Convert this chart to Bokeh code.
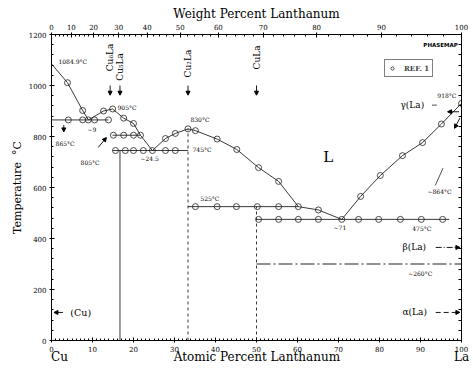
import math
from bokeh.plotting import figure
from bokeh.models import (Range1d, LinearAxis, SingleIntervalTicker, FixedTicker,
                          CustomJSTickFormatter, Label, Arrow, NormalHead, Legend, LegendItem)
from bokeh.embed import file_html
from bokeh.resources import INLINE

SERIF = "DejaVu Serif"
INK = "#222222"

# ---------------- data (at.% La, temperature degC) ----------------
liq_cu_x = [0.0, 3.9, 7.6, 9.0]
liq_cu_t = [1084.9, 1011, 902, 865]
liq_cu6_x = [9.0, 12.7, 14.9, 17.6, 20.0, 21.7, 24.6]
liq_cu6_t = [865, 900, 908, 872, 851, 805, 745]
liq_cu2_x = [24.6, 27.8, 30.2, 33.3, 35.1, 40.4, 45.2, 50.5, 55.4, 60.2, 65.1, 70.8]
liq_cu2_t = [745, 792, 812, 830, 823, 790, 749, 678, 624, 525, 512, 475]
liq_la_x = [70.8, 75.4, 80.2, 85.6, 90.5, 95.1, 100.0]
liq_la_t = [475, 565, 647, 725, 776, 849, 930]

inv_t = [865, 805, 745, 525, 475]
inv_x0 = [0.0, 14.9, 14.9, 33.3, 50.0]
inv_x1 = [13.9, 21.7, 33.3, 60.2, 97.0]

la_trans_t = [300]
la_trans_x0 = [50.0]
la_trans_x1 = [100.0]

comp_names = ["Cu\u2086La", "Cu\u2085La", "Cu\u2082La", "CuLa"]
comp_x = [14.3, 16.7, 33.3, 50.0]
line_comp_x = [16.7, 33.3, 50.0]
line_comp_top = [745, 830, 525]

pts_x = [3.9, 7.6, 9.0, 12.7, 14.9, 17.6, 20.0, 21.7, 24.6, 27.8, 30.2, 33.3, 35.1,
         40.4, 45.2, 50.5, 55.4, 60.2, 65.1, 70.8, 75.4, 80.2, 85.6, 90.5, 95.1, 100.0,
         4.1, 7.6, 10.5, 13.9,
         15.1, 17.6, 20.0,
         15.6, 18.0, 20.0, 22.4, 27.8, 30.2,
         35.1, 40.4, 45.1, 50.2, 55.4,
         50.5, 55.4, 60.2, 65.1, 74.9, 79.8, 85.1, 90.2, 95.4]
pts_t = [1011, 902, 865, 900, 908, 872, 851, 805, 745, 792, 812, 830, 823,
         790, 749, 678, 624, 525, 512, 475, 565, 647, 725, 776, 849, 930,
         865, 865, 865, 865,
         805, 805, 805,
         745, 745, 745, 745, 745, 745,
         525, 525, 525, 525, 525,
         475, 475, 475, 475, 475, 475, 475, 475, 475]

wt_major = list(range(0, 101, 10))
wt_minor = list(range(0, 101, 2))
end_names = ["Cu", "Atomic Percent Lanthanum", "La"]
M_LA, M_CU = 138.9055, 63.546


def wt_to_at(w):
    if w >= 100:
        return 100.0
    return round(100 * (w / M_LA) / (w / M_LA + (100 - w) / M_CU), 4)


# ---------------- figure ----------------
p = figure(width=473, height=368, x_range=Range1d(0, 100), y_range=Range1d(0, 1200),
           output_backend="svg", toolbar_location=None,
           x_axis_location=None, y_axis_location=None,
           min_border_left=51, min_border_right=12, min_border_top=34, min_border_bottom=28)
p.background_fill_color = "white"
p.border_fill_color = "white"
p.outline_line_color = None
p.grid.visible = False


def style_axis(ax):
    ax.axis_line_color = "black"
    ax.axis_line_width = 1
    ax.major_tick_line_color = "black"
    ax.minor_tick_line_color = "black"
    ax.major_tick_in = 3
    ax.major_tick_out = 2
    ax.minor_tick_in = 2
    ax.minor_tick_out = 0
    ax.major_label_text_font = SERIF
    ax.major_label_text_font_size = "7px"
    ax.major_label_text_color = "black"
    ax.major_label_standoff = 3
    ax.axis_label_text_font = SERIF
    ax.axis_label_text_font_style = "normal"
    ax.axis_label_text_color = "black"


bottom = LinearAxis(ticker=SingleIntervalTicker(interval=10, num_minor_ticks=10))
left = LinearAxis(ticker=SingleIntervalTicker(interval=200, num_minor_ticks=5),
                  axis_label="Temperature \u00a0\u00b0C")
top = LinearAxis(ticker=FixedTicker(ticks=[wt_to_at(w) for w in wt_major],
                                    minor_ticks=[wt_to_at(w) for w in wt_minor]),
                 formatter=CustomJSTickFormatter(code="""
    const a = tick;
    if (a >= 99.99) return "100";
    const w = 100*a*138.9055/(a*138.9055 + (100-a)*63.546);
    return Math.round(w).toString();
"""), axis_label="Weight Percent Lanthanum")
right = LinearAxis(ticker=FixedTicker(ticks=[], minor_ticks=list(range(0, 1201, 40))))
names = LinearAxis(ticker=FixedTicker(ticks=[1.95, 50.1, 100.0]),
                   formatter=CustomJSTickFormatter(
                       args=dict(n=end_names),
                       code="if (tick < 10) return n[0]; if (tick > 90) return n[2]; return n[1];"))
for ax in (bottom, left, top, right, names):
    style_axis(ax)
left.axis_label_text_font_size = "11px"
left.axis_label_standoff = 2
top.axis_label_text_font_size = "12px"
top.axis_label_standoff = 0
bottom.major_label_standoff = 3
right.minor_tick_in = 3
right.major_label_standoff = 0
right.major_tick_out = 0
names.axis_line_color = None
names.major_tick_in = 0
names.major_tick_out = 0
names.major_label_standoff = -5
names.major_label_text_font_size = "12px"
p.add_layout(bottom, "below")
p.add_layout(names, "below")
p.add_layout(left, "left")
p.add_layout(top, "above")
p.add_layout(right, "right")

# ---------------- boundaries ----------------
for xs, ts in ((liq_cu_x, liq_cu_t), (liq_cu6_x, liq_cu6_t),
               (liq_cu2_x, liq_cu2_t), (liq_la_x, liq_la_t)):
    p.line(xs, ts, line_color=INK, line_width=0.9)

p.segment(x0=inv_x0, y0=inv_t, x1=inv_x1, y1=inv_t, line_color=INK, line_width=0.9)
p.segment(x0=la_trans_x0, y0=la_trans_t, x1=la_trans_x1, y1=la_trans_t,
          line_color=INK, line_width=1.1, line_dash="14 3 2 3")

p.segment(x0=line_comp_x[:1], y0=[0], x1=line_comp_x[:1], y1=line_comp_top[:1],
          line_color=INK, line_width=0.9)
p.segment(x0=line_comp_x[1:], y0=[0, 0], x1=line_comp_x[1:], y1=line_comp_top[1:],
          line_color=INK, line_width=0.9, line_dash="3 3")

circ = p.scatter(pts_x, pts_t, marker="circle", size=6, fill_alpha=0,
                 line_color=INK, line_width=0.8)

legend = Legend(items=[LegendItem(label="REF. 1", renderers=[circ])],
                location=(333, 263), border_line_color="black", border_line_width=1,
                background_fill_alpha=0, padding=3, margin=0, spacing=0,
                glyph_width=8, glyph_height=10, label_standoff=8, label_height=10,
                label_text_font=SERIF, label_text_font_style="bold",
                label_text_font_size="7px")
p.add_layout(legend)

# ---------------- texts ----------------


def lab(x, y, text, size="6px", font=SERIF, style="normal", **kw):
    p.add_layout(Label(x=x, y=y, text=text, text_font=font, text_font_size=size,
                       text_font_style=style, text_color="black", **kw))


small = [
    (1.7, 1095, "1084.9\u00b0C"), (16.1, 913, "905\u00b0C"), (8.8, 826, "~9"),
    (1.0, 773, "865\u00b0C"), (7.1, 698, "805\u00b0C"), (21.7, 714, "~24.5"),
    (33.9, 868, "830\u00b0C"), (34.4, 749, "745\u00b0C"), (36.3, 557, "525\u00b0C"),
    (68.8, 443, "~71"), (88.0, 439, "475\u00b0C"), (91.7, 584, "~864\u00b0C"),
    (94.1, 962, "918\u00b0C"), (87.0, 263, "~260\u00b0C"),
]
for x, y, t in small:
    lab(x, y, t, size="6px", text_baseline="middle")

lab(85.1, 923, "\u03b3(La)", size="9px", text_baseline="middle")
lab(85.6, 365, "\u03b2(La)", size="9px", text_baseline="middle")
lab(85.6, 110, "\u03b1(La)", size="9px", text_baseline="middle")
lab(4.6, 110, "(Cu)", size="9.5px", text_baseline="middle")
lab(66.3, 718, "L", size="15px", text_baseline="middle")
lab(90.7, 1160, "PHASEMAP", size="5.5px", font="DejaVu Sans", style="bold",
    text_baseline="middle")

comp_label_y = [1110, 1073, 1086, 1110]
for name, x, y in zip(comp_names, comp_x, comp_label_y):
    lab(x, y, name, size="9px", angle=math.pi / 2, text_align="center",
        text_baseline="middle")

# ---------------- arrows ----------------


def arrow(x0, y0, x1, y1, dash="solid", size=4):
    p.add_layout(Arrow(end=NormalHead(size=size, fill_color="black", line_color="black"),
                       x_start=x0, y_start=y0, x_end=x1, y_end=y1,
                       line_color="black", line_width=0.9, line_dash=dash))


for x in comp_x:
    arrow(x, 1000, x, 962)
arrow(3.0, 845, 3.0, 818)
arrow(11.4, 757, 13.4, 796)
arrow(99.4, 897, 96.6, 897)
arrow(99.6, 872, 98.3, 832)
arrow(93.7, 365, 99.6, 365, dash="6 2 1 2")
arrow(93.7, 110, 99.6, 110, dash="5 3")
arrow(2.8, 110, 0.6, 110)
p.segment(x0=[93.6], y0=[608], x1=[95.5], y1=[676], line_color=INK, line_width=0.8)
p.segment(x0=[92.8], y0=[923], x1=[94.0], y1=[923], line_color=INK, line_width=0.8)

open("out.html", "w").write(file_html(p, INLINE))
